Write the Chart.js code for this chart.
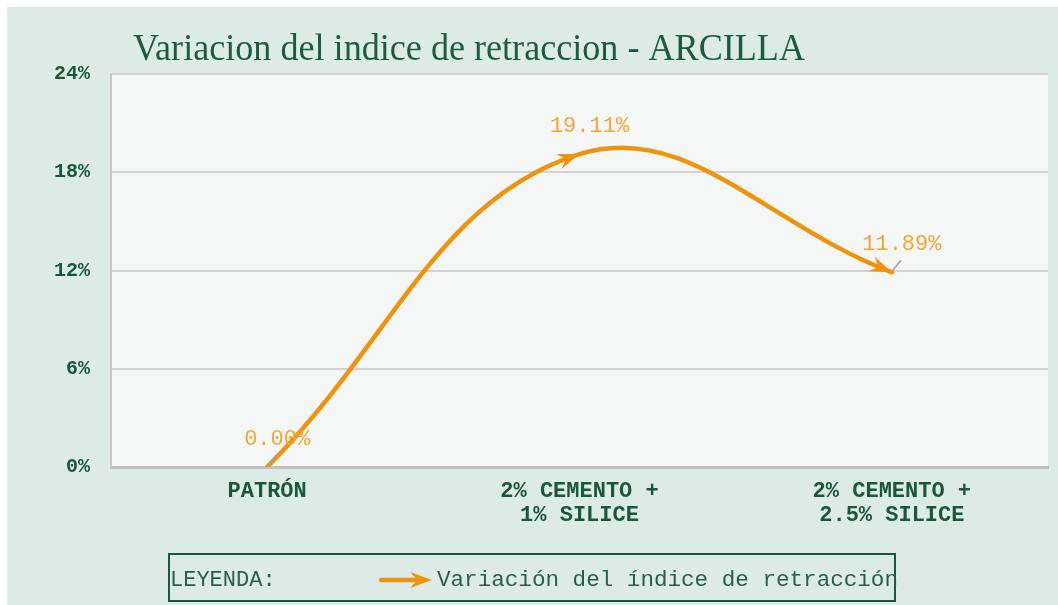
<!DOCTYPE html>
<html>
<head>
<meta charset="utf-8">
<title>Variacion del indice de retraccion - ARCILLA</title>
<script src="https://cdn.jsdelivr.net/npm/chart.js@4"></script>
<style>
    body { margin: 0; background: #ffffff; }
    canvas { display: block; }
</style>
</head>
<body>
<canvas id="lineChart" width="1058" height="605"></canvas>
<script>
/* ---------------------------
   DATA
--------------------------- */
const categories = ['PATRÓN', ['2% CEMENTO +', '1% SILICE'], ['2% CEMENTO +', '2.5% SILICE']];
const retraccion = [0.00, 19.11, 11.89];
const yTicks = [0, 6, 12, 18, 24];
const chartTitle = 'Variacion del indice de retraccion - ARCILLA';
const seriesLabel = 'Variación del índice de retracción';

const ORANGE = '#f0930c';
const GREEN = '#1b573d';

/* ---------------------------
   BACKGROUND + TITLE
--------------------------- */
const backgroundPlugin = {
    id: 'background',
    beforeDraw(chart) {
        const ctx = chart.ctx;
        const a = chart.chartArea;
        ctx.save();
        ctx.fillStyle = '#ffffff';
        ctx.fillRect(0, 0, chart.width, chart.height);
        ctx.fillStyle = '#ddebe6';
        ctx.fillRect(7, 7, chart.width - 7, chart.height - 7);
        ctx.fillStyle = '#f4f7f5';
        ctx.fillRect(a.left, a.top, a.right - a.left, a.bottom - a.top);

        // title
        ctx.fillStyle = '#1d5a3f';
        ctx.font = '38px "Liberation Serif", serif';
        ctx.textBaseline = 'alphabetic';
        ctx.textAlign = 'left';
        ctx.fillText(chartTitle, 133, 60, 672);
        ctx.restore();
    }
};

/* ---------------------------
   ARROWS, LABELS, LEGEND
--------------------------- */
function drawArrowHead(ctx, x, y, angle, len, half) {
    ctx.save();
    ctx.translate(x, y);
    ctx.rotate(angle);
    ctx.beginPath();
    ctx.moveTo(0, 0);
    ctx.lineTo(-len, -half);
    ctx.lineTo(-len * 0.65, 0);
    ctx.lineTo(-len, half);
    ctx.closePath();
    ctx.fill();
    ctx.restore();
}

// point on the bezier segment between two chart points
function bez(p0, p1, t) {
    const u = 1 - t;
    const x = u*u*u*p0.x + 3*u*u*t*p0.cp2x + 3*u*t*t*p1.cp1x + t*t*t*p1.x;
    const y = u*u*u*p0.y + 3*u*u*t*p0.cp2y + 3*u*t*t*p1.cp1y + t*t*t*p1.y;
    return { x, y };
}

const decorPlugin = {
    id: 'decor',
    afterDatasetsDraw(chart) {
        const ctx = chart.ctx;
        const meta = chart.getDatasetMeta(0);
        const values = chart.data.datasets[0].data;
        ctx.save();

        // arrow heads at the end of each segment (aimed along the last ~20px of curve)
        ctx.fillStyle = ORANGE;
        meta.data.forEach((pt, i) => {
            if (i === 0) return;
            const prev = meta.data[i - 1];
            let back = bez(prev, pt, 0.99);
            for (let t = 0.99; t > 0; t -= 0.005) {
                back = bez(prev, pt, t);
                if (Math.hypot(pt.x - back.x, pt.y - back.y) >= 20) break;
            }
            const ang = Math.atan2(pt.y - back.y, pt.x - back.x);
            drawArrowHead(ctx, pt.x, pt.y, ang, 22, 8);
        });

        // leader lines + value labels
        meta.data.forEach((pt, i) => {
            if (i !== 1) {
                ctx.strokeStyle = '#a0a0a0';
                ctx.lineWidth = 1.5;
                ctx.beginPath();
                ctx.moveTo(pt.x + 1, pt.y - 2);
                ctx.lineTo(pt.x + 9, pt.y - 12);
                ctx.stroke();
            }

            ctx.fillStyle = '#f2a535';
            ctx.font = '22px "Liberation Mono", monospace';
            ctx.textAlign = 'center';
            ctx.textBaseline = 'middle';
            ctx.fillText(values[i].toFixed(2) + '%', pt.x + 10, pt.y - 28);
        });

        // legend box
        ctx.strokeStyle = GREEN;
        ctx.lineWidth = 2;
        ctx.strokeRect(169, 554, 726, 47);
        ctx.fillStyle = '#2b5e4a';
        ctx.font = '22px "Liberation Mono", monospace';
        ctx.textAlign = 'left';
        ctx.textBaseline = 'middle';
        ctx.fillText('LEYENDA:', 170, 580);

        ctx.strokeStyle = ORANGE;
        ctx.lineWidth = 4.5;
        ctx.lineCap = 'round';
        ctx.beginPath();
        ctx.moveTo(381, 580);
        ctx.lineTo(420, 580);
        ctx.stroke();
        ctx.fillStyle = ORANGE;
        drawArrowHead(ctx, 432, 580, 0, 22, 8);

        ctx.fillStyle = '#2b5e4a';
        ctx.font = '22.6px "Liberation Mono", monospace';
        ctx.fillText(chart.data.datasets[0].label, 437, 580);
        ctx.restore();
    }
};

/* ---------------------------
   LINE CHART
--------------------------- */
const lineCtx = document.getElementById('lineChart').getContext('2d');

const lineChart = new Chart(lineCtx, {
    type: 'line',
    data: {
        labels: categories,
        datasets: [{
            label: seriesLabel,
            data: retraccion,
            borderColor: ORANGE,
            borderWidth: 4.5,
            borderCapStyle: 'round',
            pointRadius: 0,
            tension: 0.4,
            fill: false
        }]
    },
    options: {
        responsive: false,
        animation: false,
        layout: { padding: { top: 74, right: 10, left: 0, bottom: 0 } },
        scales: {
            x: {
                offset: true,
                grid: { display: false, drawTicks: false },
                border: { color: '#c0c0c0', width: 3 },
                ticks: {
                    color: GREEN,
                    padding: 12,
                    maxRotation: 0,
                    font: { family: 'Liberation Mono', size: 22, weight: 'bold', lineHeight: 1.1 }
                },
                afterFit: s => { s.height = 138; }
            },
            y: {
                min: 0,
                max: 24,
                afterBuildTicks: s => { s.ticks = yTicks.map(v => ({ value: v })); },
                grid: { color: '#d2d2d2', lineWidth: 2, drawTicks: false },
                border: { color: '#c8c8c8', width: 2 },
                ticks: {
                    color: GREEN,
                    padding: 21,
                    font: { family: 'Liberation Mono', size: 20, weight: 'bold' },
                    callback: v => v + '%'
                },
                afterFit: s => { s.width = 111; }
            }
        },
        plugins: {
            legend: { display: false },
            title: { display: false },
            tooltip: { enabled: false }
        }
    },
    plugins: [backgroundPlugin, decorPlugin]
});
</script>
</body>
</html>
